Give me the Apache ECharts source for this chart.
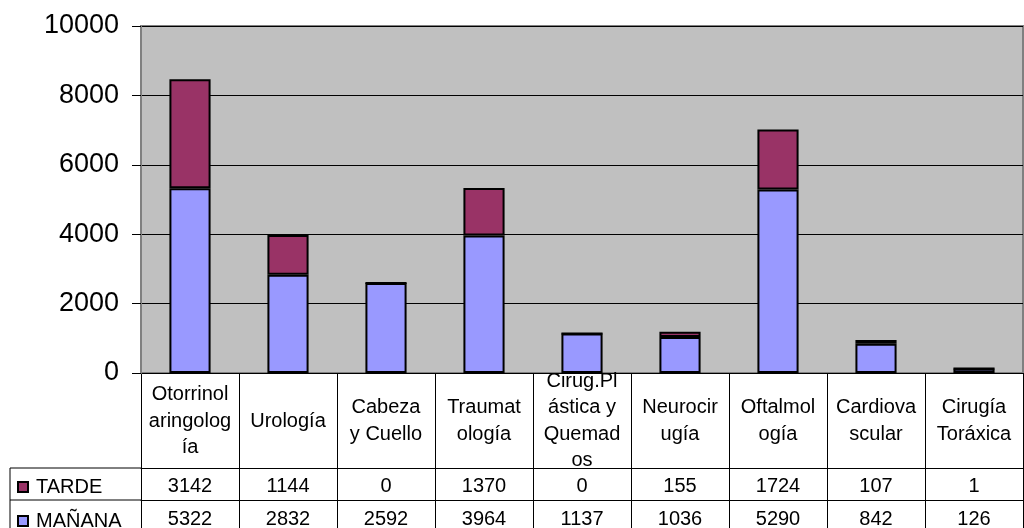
<!DOCTYPE html>
<html>
<head>
<meta charset="utf-8">
<script src="https://cdn.jsdelivr.net/npm/echarts@6/dist/echarts.min.js"></script>
<style>
  html, body { margin: 0; padding: 0; background: #fff; }
  #chart { width: 1024px; height: 528px; }
</style>
</head>
<body>
<div id="chart"></div>
<script>
var categories = ['Otorrinolaringología', 'Urología', 'Cabeza y Cuello', 'Traumatología',
  'Cirug.Plástica y Quemados', 'Neurocirugía', 'Oftalmología', 'Cardiovascular', 'Cirugía Toráxica'];
// wrapped the way the table cells show them
var categoryLabels = ['Otorrinol\naringolog\nía', 'Urología', 'Cabeza\ny Cuello', 'Traumat\nología',
  'Cirug.Pl\nástica y\nQuemad\nos', 'Neurocir\nugía', 'Oftalmol\nogía', 'Cardiova\nscular', 'Cirugía\nToráxica'];
var tarde = [3142, 1144, 0, 1370, 0, 155, 1724, 107, 1];
var manana = [5322, 2832, 2592, 3964, 1137, 1036, 5290, 842, 126];
var yTicks = { min: 0, max: 10000, interval: 2000 };

var font = "'Liberation Sans', Arial, sans-serif";

var chart = echarts.init(document.getElementById('chart'));

function tableAxis(offset, tickLen, margin, fmt) {
  return {
    type: 'category',
    data: categories,
    position: 'bottom',
    offset: offset,
    axisLine: { show: true, lineStyle: { color: '#000', width: 1 } },
    axisTick: { show: true, interval: 0, length: tickLen, lineStyle: { color: '#000', width: 1 } },
    axisLabel: {
      interval: 0,
      margin: margin,
      verticalAlign: 'middle',
      color: '#000',
      fontFamily: font,
      fontSize: 20,
      lineHeight: 26.5,
      formatter: fmt
    },
    splitLine: { show: false }
  };
}

function legendRow(name, top) {
  return {
    data: [name],
    orient: 'horizontal',
    left: 12,
    top: top,
    icon: 'rect',
    itemWidth: 10,
    itemHeight: 10,
    itemGap: 0,
    selectedMode: false,
    textStyle: { fontSize: 20, color: '#000', fontFamily: font, padding: [0, 0, 0, 3] }
  };
}

chart.setOption({
  animation: false,
  textStyle: { fontFamily: font },
  grid: {
    left: 141,
    right: 1,
    top: 26,
    bottom: 155,
    outerBoundsMode: 'none',
    containLabel: false,
    show: true,
    backgroundColor: '#C0C0C0',
    borderColor: '#808080',
    borderWidth: 2
  },
  legend: [legendRow('TARDE', 472), legendRow('MAÑANA', 506)],
  xAxis: [
    tableAxis(0, 95, 48, function (v, i) { return categoryLabels[i]; }),
    tableAxis(95, 32, 18, function (v, i) { return String(tarde[i]); }),
    tableAxis(127, 40, 19, function (v, i) { return String(manana[i]); })
  ],
  yAxis: {
    type: 'value',
    z: 1,
    min: yTicks.min,
    max: yTicks.max,
    interval: yTicks.interval,
    axisLine: { show: true, lineStyle: { color: '#808080', width: 2 } },
    axisTick: { show: true, length: 9, lineStyle: { color: '#000' } },
    axisLabel: {
      margin: 22, fontSize: 27, color: '#000', fontFamily: font,
      formatter: function (v) { return String(v); }
    },
    splitLine: { lineStyle: { color: '#000', width: 1 } }
  },
  graphic: [
    { type: 'line', shape: { x1: 10, y1: 468, x2: 141, y2: 468 }, style: { stroke: '#000', lineWidth: 1 } },
    { type: 'line', shape: { x1: 10, y1: 500, x2: 141, y2: 500 }, style: { stroke: '#000', lineWidth: 1 } },
    { type: 'line', shape: { x1: 10, y1: 468, x2: 10, y2: 528 }, style: { stroke: '#000', lineWidth: 1 } }
  ],
  series: [
    {
      name: 'MAÑANA',
      type: 'bar',
      stack: 'total',
      barWidth: '42%',
      data: manana,
      itemStyle: { color: '#9999FF', borderColor: '#000', borderWidth: 2 }
    },
    {
      name: 'TARDE',
      type: 'bar',
      stack: 'total',
      data: tarde,
      itemStyle: { color: '#993366', borderColor: '#000', borderWidth: 2 }
    }
  ]
});
</script>
</body>
</html>
